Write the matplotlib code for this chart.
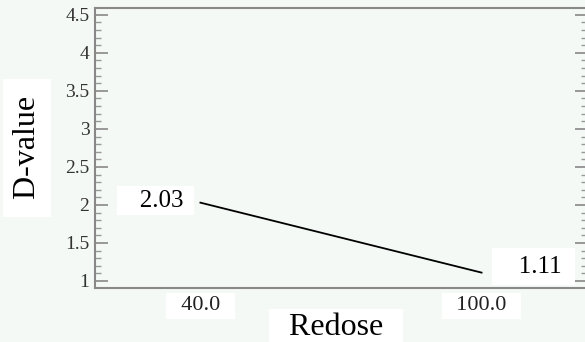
import matplotlib.pyplot as plt
from matplotlib.ticker import MultipleLocator

# Redose level vs. desirability
redose = [40.0, 100.0]
d_value = [2.03, 1.11]
x_tick_labels = ['40.0', '100.0']

bg = '#f4f9f6'
plt.rcParams['font.family'] = ['Liberation Serif', 'DejaVu Serif']

fig = plt.figure(figsize=(5.85, 3.42), dpi=100, facecolor=bg)
ax = fig.add_axes([0.1624, 0.158, 0.841, 0.819], facecolor=bg)

ax.plot(redose, d_value, color='black', lw=1.3)

ax.set_xlim(17.5, 122.5)
ax.set_ylim(0.908, 4.592)

ax.yaxis.set_minor_locator(MultipleLocator(0.1))
ax.set_yticks([1, 1.5, 2, 2.5, 3, 3.5, 4, 4.5])
ax.set_yticklabels(['1', '1.5', '2', '2.5', '3', '3.5', '4', '4.5'])
ax.tick_params(axis='y', which='major', direction='in', length=9, width=1.2,
               color='#888888', labelsize=14, labelcolor='#333333',
               right=True, pad=4)
ax.tick_params(axis='y', which='minor', direction='in', length=4, width=1.0,
               color='#999999', right=True)

ax.set_xticks(redose)
ax.set_xticklabels(['  ' + t + '  ' for t in x_tick_labels])
ax.tick_params(axis='x', length=0, labelsize=16, pad=6, labelcolor='#222222')
for lab in ax.get_xticklabels():
    lab.set_bbox(dict(facecolor='white', edgecolor='none', boxstyle='square,pad=0.15'))

for s in ax.spines.values():
    s.set_color('#888888')
    s.set_linewidth(1.5)

ax.set_ylabel(' D-value ', fontsize=23,
              bbox=dict(facecolor='white', edgecolor='none', boxstyle='square,pad=0.3'))
ax.yaxis.set_label_coords(-0.108, 0.5)
ax.set_xlabel('  Redose  ', fontsize=23,
              bbox=dict(facecolor='white', edgecolor='none', boxstyle='square,pad=0.12'))
ax.xaxis.set_label_coords(0.49, -0.09)

# value boxes next to each end of the line
ax.annotate('   %.2f ' % d_value[0], (redose[0], d_value[0]),
            xytext=(-45, 2), textcoords='offset pixels', ha='center', va='center',
            fontsize=18, bbox=dict(facecolor='white', edgecolor='none', boxstyle='square,pad=0.15'))
ax.annotate('   %.2f ' % d_value[1], (redose[1], d_value[1]),
            xytext=(52, 6), textcoords='offset pixels', ha='center', va='center',
            fontsize=18, bbox=dict(facecolor='white', edgecolor='none', boxstyle='square,pad=0.3'))

fig.savefig('out.png', dpi=100, facecolor=bg)
